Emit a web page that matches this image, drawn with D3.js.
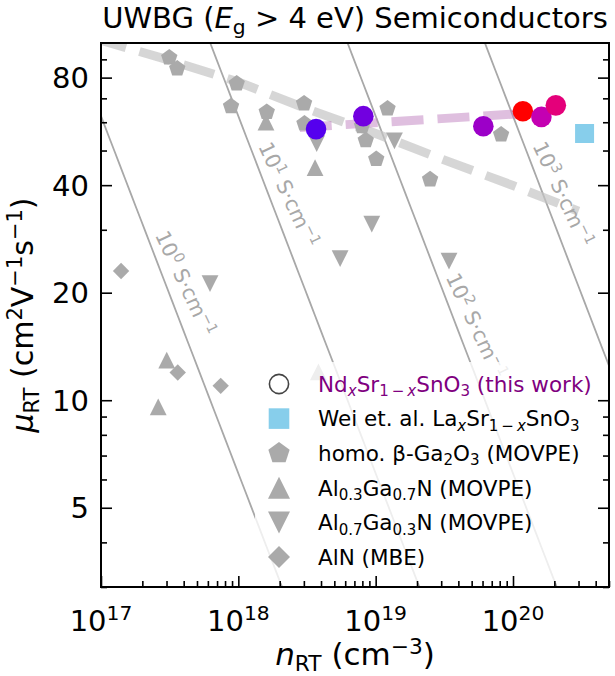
<!DOCTYPE html>
<html><head><meta charset="utf-8">
<script src="https://cdn.jsdelivr.net/npm/d3@7"></script>
<style>body{margin:0;background:#fff} svg{display:block;font-family:"DejaVu Sans",sans-serif}</style>
</head><body><svg id="c" width="615" height="676"></svg>
<script>
// ---------------- data ----------------
const xDomain = [1e17, 5e20];
const yDomain = [3, 100];
const xMajorTicks = [1e17, 1e18, 1e19, 1e20];
const xTickExponents = ["17", "18", "19", "20"];
const yMajorTicks = [5, 10, 20, 40, 80];
const yTickLabels = ["5", "10", "20", "40", "80"];
const yMinorTicks = [3, 4, 6, 7, 8, 9, 30, 50, 60, 70, 90];

// this work: NdxSr1-xSnO3
const ndsso_n  = [3.68e18, 8.13e18, 6.08e19, 1.18e20, 1.61e20, 2.05e20];
const ndsso_mu = [57.4, 62.4, 58.5, 64.4, 62.1, 66.9];
const ndsso_colors = ["#5500ee", "#7200e0", "#9c00c8", "#ff0000", "#c400b2", "#e4007a"];
// Wei et al. LaxSr1-xSnO3
const wei_n  = [3.32e20];
const wei_mu = [55.8];
// homo. beta-Ga2O3 (MOVPE)
const ga2o3_n  = [3.14e17, 3.59e17, 9.73e17, 8.85e17, 1.61e18, 3.01e18, 3.03e18, 1.22e19, 7.96e18, 8.47e18, 1.01e19, 2.49e19, 8.19e19];
const ga2o3_mu = [91.0, 84.8, 77.0, 66.5, 64.1, 67.7, 59.5, 65.5, 58.5, 53.4, 47.3, 41.5, 55.4];
// Al0.3Ga0.7N (MOVPE)
const al03_n  = [1.59e18, 3.62e18, 3.01e17, 2.61e17, 3.83e18];
const al03_mu = [60.1, 44.8, 12.95, 9.58, 12.0];
// Al0.7Ga0.3N (MOVPE)
const al07_n  = [3.72e18, 1.37e19, 9.37e18, 5.51e18, 3.42e19, 6.22e17];
const al07_mu = [52.3, 53.2, 31.1, 24.9, 24.5, 21.2];
// AlN (MBE)
const aln_n  = [1.40e17, 3.62e17, 7.44e17];
const aln_mu = [23.0, 11.96, 10.97];

// trend lines
const grayTrend_n  = [1e17, 3e17, 1e18, 3e18, 1e19, 3e19, 1e20, 3.0e20];
const grayTrend_mu = [101.7, 90, 77.8, 65.9, 55.8, 47.4, 39.9, 33.8];
const purpleTrend_n  = [2.8e18, 1.13e20];
const purpleTrend_mu = [58.0, 63.4];

// constant conductivity lines (S/cm)
const sigmas = [1, 10, 100, 1000];
const sigmaExponents = ["0", "1", "2", "3"];
const sigmaLabelMu = [29.0, 51.4, 22.1, 51.6];
const qe = 1.602e-19;

// ---------------- drawing ----------------
const W = 615, H = 676;
const m = {l: 101, r: 6, t: 43, b: 89};
const svg = d3.select("#c");
const x = d3.scaleLog().domain(xDomain).range([m.l, W - m.r]);
const y = d3.scaleLog().domain(yDomain).range([H - m.b, m.t]);
const FONT = "DejaVu Sans";

function rich(sel, parts, fs) {
  let shift = 0;
  parts.forEach(p => {
    const target = p.s === "sup" ? -0.37 * fs : p.s === "sub" ? 0.2 * fs : 0;
    const ts = sel.append("tspan").text(p.t).attr("dy", target - shift);
    shift = target;
    if (p.s) ts.attr("font-size", 0.7 * fs);
    if (p.i) ts.attr("font-style", "italic");
  });
  return sel;
}

svg.append("defs").append("clipPath").attr("id", "clip")
  .append("rect").attr("x", m.l).attr("y", m.t)
  .attr("width", W - m.l - m.r).attr("height", H - m.t - m.b);

const plot = svg.append("g").attr("clip-path", "url(#clip)");

// conductivity lines
const muLineVals = d3.range(0, 41).map(i => yDomain[0] * Math.pow(yDomain[1] / yDomain[0], i / 40));
const line = d3.line().x(d => x(d[0])).y(d => y(d[1]));
sigmas.forEach(s => {
  plot.append("path")
    .attr("d", line(muLineVals.map(mu => [s / (qe * mu), mu])))
    .attr("fill", "none").attr("stroke", "#a8a8a8").attr("stroke-width", 1.8);
});

// trend lines
plot.append("path")
  .attr("d", line(grayTrend_n.map((n, i) => [n, grayTrend_mu[i]])))
  .attr("fill", "none").attr("stroke", "#c4c4c4").attr("stroke-opacity", 0.7)
  .attr("stroke-width", 9).attr("stroke-dasharray", "32,14").attr("stroke-dashoffset", 6);
plot.append("path")
  .attr("d", line(purpleTrend_n.map((n, i) => [n, purpleTrend_mu[i]])))
  .attr("fill", "none").attr("stroke", "#c080c0").attr("stroke-opacity", 0.5)
  .attr("stroke-width", 9).attr("stroke-dasharray", "32,14").attr("stroke-dashoffset", 0);

// marker shapes
function poly(pts) { return "M" + pts.map(p => p[0].toFixed(2) + "," + p[1].toFixed(2)).join("L") + "Z"; }
const shapes = {
  pentagon: R => poly(d3.range(5).map(k => { const a = (-90 + 72 * k) * Math.PI / 180; return [R * Math.cos(a), R * Math.sin(a)]; })),
  triUp: R => poly([[0, -R], [-R, R], [R, R]]),
  triDown: R => poly([[0, R], [-R, -R], [R, -R]]),
  diamond: R => poly([[0, -R], [R, 0], [0, R], [-R, 0]]),
  square: R => poly([[-R, -R], [R, -R], [R, R], [-R, R]])
};
function drawMarkers(ns, mus, shape, R, color) {
  plot.append("g").selectAll("path").data(ns.map((n, i) => [n, mus[i]])).join("path")
    .attr("transform", d => `translate(${x(d[0])},${y(d[1])})`)
    .attr("d", shapes[shape](R)).attr("fill", color);
}
const GRAY = "#aaaaaa";
drawMarkers(ga2o3_n, ga2o3_mu, "pentagon", 8.6, GRAY);
drawMarkers(al03_n, al03_mu, "triUp", 8.4, GRAY);
drawMarkers(al07_n, al07_mu, "triDown", 8.4, GRAY);
drawMarkers(aln_n, aln_mu, "diamond", 8.2, GRAY);
drawMarkers(wei_n, wei_mu, "square", 9.5, "#87ceeb");
plot.append("g").selectAll("circle").data(ndsso_n.map((n, i) => [n, ndsso_mu[i], ndsso_colors[i]])).join("circle")
  .attr("cx", d => x(d[0])).attr("cy", d => y(d[1])).attr("r", 10.3).attr("fill", d => d[2]);

// conductivity labels
const ang = Math.atan2(y(10) - y(100), x(1e18) - x(1e17)) * 180 / Math.PI; // line angle
const SFS = 20.5;
sigmas.forEach((s, i) => {
  const mu = sigmaLabelMu[i];
  const px = x(s / (qe * mu)) + 8, py = y(mu);
  const t = plot.append("text").attr("font-family", FONT).attr("font-size", SFS).attr("fill", "#a8a8a8")
    .attr("transform", `translate(${px},${py}) rotate(${ang - 4})`);
  rich(t, [{t: "10"}, {t: sigmaExponents[i], s: "sup"}, {t: " S·cm"}, {t: "−1", s: "sup"}], SFS);
});

// legend
const lg = svg.append("g");
lg.append("rect").attr("x", 255).attr("y", 362).attr("width", 348).attr("height", 221).attr("rx", 6)
  .attr("fill", "#fff").attr("fill-opacity", 0.8);
const legendRows = [
  {shape: "circle", color: "none", text: [{t: "Nd"}, {t: "x", s: "sub", i: true}, {t: "Sr"}, {t: "1\u2009−\u2009", s: "sub"}, {t: "x", s: "sub", i: true}, {t: "SnO"}, {t: "3", s: "sub"}, {t: " (this work)"}], tc: "#800080"},
  {shape: "square", color: "#87ceeb", text: [{t: "Wei et. al. La"}, {t: "x", s: "sub", i: true}, {t: "Sr"}, {t: "1\u2009−\u2009", s: "sub"}, {t: "x", s: "sub", i: true}, {t: "SnO"}, {t: "3", s: "sub"}], tc: "#000"},
  {shape: "pentagon", color: GRAY, text: [{t: "homo. β-Ga"}, {t: "2", s: "sub"}, {t: "O"}, {t: "3", s: "sub"}, {t: " (MOVPE)"}], tc: "#000"},
  {shape: "triUp", color: GRAY, text: [{t: "Al"}, {t: "0.3", s: "sub"}, {t: "Ga"}, {t: "0.7", s: "sub"}, {t: "N (MOVPE)"}], tc: "#000"},
  {shape: "triDown", color: GRAY, text: [{t: "Al"}, {t: "0.7", s: "sub"}, {t: "Ga"}, {t: "0.3", s: "sub"}, {t: "N (MOVPE)"}], tc: "#000"},
  {shape: "diamond", color: GRAY, text: [{t: "AlN (MBE)"}], tc: "#000"}
];
const legendSizes = {square: 10.3, pentagon: 11.2, triUp: 11, triDown: 11, diamond: 11};
const LGFS = 21.5;
legendRows.forEach((r, i) => {
  const cy = 384 + i * 34.6, cx = 279;
  if (r.shape === "circle") {
    lg.append("circle").attr("cx", cx).attr("cy", cy).attr("r", 9.6).attr("fill", "none")
      .attr("stroke", "#444").attr("stroke-width", 1.6);
  } else {
    lg.append("path").attr("transform", `translate(${cx},${cy})`).attr("d", shapes[r.shape](legendSizes[r.shape])).attr("fill", r.color);
  }
  const t = lg.append("text").attr("x", 318).attr("y", cy + 7.8).attr("font-family", FONT)
    .attr("font-size", LGFS).attr("fill", r.tc);
  rich(t, r.text, LGFS);
});

// axes (ticks inward)
const xMinor = [];
[17, 18, 19, 20].forEach(d => d3.range(2, 10).forEach(k => { const v = k * Math.pow(10, d); if (v <= xDomain[1]) xMinor.push(v); }));
function styleAxis(g) {
  g.select(".domain").remove();
  g.selectAll(".tick line").attr("stroke", "#000").attr("stroke-width", 1.6);
}
const by = H - m.b;
svg.append("g").attr("transform", `translate(0,${by})`).call(d3.axisBottom(x).tickValues(xMajorTicks).tickSize(-11).tickFormat("")).call(styleAxis);
svg.append("g").attr("transform", `translate(0,${by})`).call(d3.axisBottom(x).tickValues(xMinor).tickSize(-6).tickFormat("")).call(styleAxis);
svg.append("g").attr("transform", `translate(${m.l},0)`).call(d3.axisLeft(y).tickValues(yMajorTicks).tickSize(-11).tickFormat("")).call(styleAxis);
svg.append("g").attr("transform", `translate(${m.l},0)`).call(d3.axisLeft(y).tickValues(yMinorTicks).tickSize(-6).tickFormat("")).call(styleAxis);
svg.append("g").attr("transform", `translate(${W - m.r},0)`).call(d3.axisRight(y).tickValues(yMajorTicks).tickSize(-11).tickFormat("")).call(styleAxis);
svg.append("g").attr("transform", `translate(${W - m.r},0)`).call(d3.axisRight(y).tickValues(yMinorTicks).tickSize(-6).tickFormat("")).call(styleAxis);

// frame
svg.append("rect").attr("x", m.l).attr("y", m.t).attr("width", W - m.l - m.r).attr("height", H - m.t - m.b)
  .attr("fill", "none").attr("stroke", "#000").attr("stroke-width", 2);

// tick labels
const TFS = 29;
xMajorTicks.forEach((v, i) => {
  const t = svg.append("text").attr("x", x(v)).attr("y", 631).attr("text-anchor", "middle")
    .attr("font-family", FONT).attr("font-size", TFS).attr("fill", "#000");
  rich(t, [{t: "10"}, {t: xTickExponents[i], s: "sup"}], TFS);
});
yMajorTicks.forEach((v, i) => {
  svg.append("text").attr("x", 89).attr("y", y(v) + 0.36 * TFS).attr("text-anchor", "end")
    .attr("font-family", FONT).attr("font-size", TFS).attr("fill", "#000").text(yTickLabels[i]);
});

// axis labels
const LFS = 31;
const xl = svg.append("text").attr("x", (m.l + W - m.r) / 2).attr("y", 665).attr("text-anchor", "middle")
  .attr("font-family", FONT).attr("font-size", LFS);
rich(xl, [{t: "n", i: true}, {t: "RT", s: "sub"}, {t: " (cm"}, {t: "−3", s: "sup"}, {t: ")"}], LFS);
const yl = svg.append("text").attr("transform", `translate(33,${(m.t + H - m.b) / 2}) rotate(-90)`).attr("text-anchor", "middle")
  .attr("font-family", FONT).attr("font-size", 30);
rich(yl, [{t: "μ", i: true}, {t: "RT", s: "sub"}, {t: " (cm"}, {t: "2", s: "sup"}, {t: "V"}, {t: "−1", s: "sup"}, {t: "s"}, {t: "−1", s: "sup"}, {t: ")"}], 30);

// title
const tt = svg.append("text").attr("x", (m.l + W - m.r) / 2).attr("y", 28).attr("text-anchor", "middle")
  .attr("font-family", FONT).attr("font-size", 29);
rich(tt, [{t: "UWBG ("}, {t: "E", i: true}, {t: "g", s: "sub"}, {t: " > 4 eV) Semiconductors"}], 29);
</script></body></html>
